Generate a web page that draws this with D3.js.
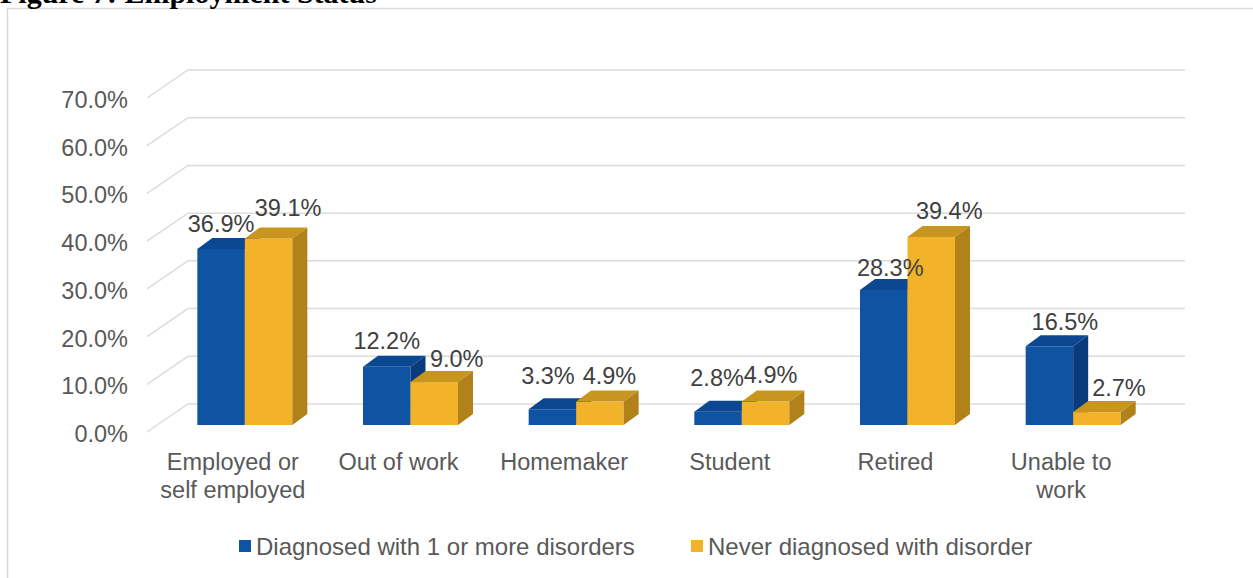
<!DOCTYPE html>
<html>
<head>
<meta charset="utf-8">
<script src="https://cdn.jsdelivr.net/npm/d3@7"></script>
<style>
  html, body { margin: 0; padding: 0; background: #ffffff; }
  svg { display: block; }
  text { font-family: "Liberation Sans", Arial, sans-serif; }
</style>
</head>
<body>
<svg id="chart" width="1253" height="578"></svg>
<script>
// ---- data ----
const categories = ["Employed or\nself employed", "Out of work", "Homemaker", "Student", "Retired", "Unable to\nwork"];
const seriesNames = ["Diagnosed with 1 or more disorders", "Never diagnosed with disorder"];
const diagnosed = [36.9, 12.2, 3.3, 2.8, 28.3, 16.5];
const neverDiagnosed = [39.1, 9.0, 4.9, 4.9, 39.4, 2.7];
const yTicks = [0, 10, 20, 30, 40, 50, 60, 70];

// ---- layout ----
const W = 1253, H = 578;
const fontSize = 23.5;
const colors = [
  { front: "#0f53a3", top: "#0c4791", side: "#0a3c7c" },
  { front: "#f2b22a", top: "#c8951f", side: "#b1821a" }
];
// depth of the wall (front plane -> back wall)
const wallDx = 41, wallDy = -28;
// bar plane offset from the front plane, and bar depth
const barOffX = 12, barOffY = -7;
const barDx = 15, barDy = -11;
// label nudges (dx, dy from the top-front edge) for each series
const labelOffset = [
  [[0, -25], [0, -25.5], [-4.5, -33], [-1, -34], [6.5, -22], [15.5, -24]],
  [[19.5, -30], [22.5, -23], [9.5, -26], [5, -26.5], [18, -26], [22, -24]]
];

const svg = d3.select("#chart");

// frame of the embedded chart
svg.append("path")
  .attr("d", `M7.5,${H + 2} V8.5 H${W + 2}`)
  .attr("fill", "none").attr("stroke", "#d9d9d9").attr("stroke-width", 1.5);

// clipped figure caption above the frame
svg.append("text")
  .attr("x", 0).attr("y", 3)
  .attr("font-weight", "bold").attr("font-size", 30)
  .attr("fill", "#000")
  .style("font-family", "'Liberation Serif', 'Times New Roman', serif")
  .text("Figure 7: Employment Status");

// scales on the front plane
const y = d3.scaleLinear().domain([0, 70]).range([432, 98]);
const x = d3.scaleBand().domain(categories).range([150, 1144]);
const barPair = 95;
const xs = d3.scaleBand().domain([0, 1]).range([0, barPair]);

// walls: left side diagonals and back-wall gridlines
const grid = svg.append("g").attr("stroke", "#dcdcdc").attr("stroke-width", 1.5).attr("fill", "none");
yTicks.forEach(t => {
  const fy = y(t);
  grid.append("path")
    .attr("d", `M147,${fy} L${147 + wallDx},${fy + wallDy} L1185,${fy + wallDy}`);
});

// y axis labels
svg.append("g").selectAll("text").data(yTicks).join("text")
  .attr("x", 128).attr("y", d => y(d) + 2)
  .attr("text-anchor", "end").attr("dominant-baseline", "central")
  .attr("font-size", fontSize).attr("fill", "#595959")
  .text(d => d3.format(".1f")(d) + "%");

// bars (3D boxes)
const series = [diagnosed, neverDiagnosed];
const base = y(0) + barOffY;
const bars = svg.append("g");
categories.forEach((c, i) => {
  const gx = x(c) + x.bandwidth() / 2 + barOffX - barPair / 2;
  series.forEach((vals, s) => {
    const v = vals[i];
    const x0 = gx + xs(s), w = xs.bandwidth();
    const top = y(v) + barOffY;
    const col = colors[s];
    const g = bars.append("g");
    g.append("rect").attr("x", x0).attr("y", top).attr("width", w).attr("height", base - top)
      .attr("fill", col.front);
    g.append("path")
      .attr("d", `M${x0},${top} L${x0 + barDx},${top + barDy} L${x0 + w + barDx},${top + barDy} L${x0 + w},${top} Z`)
      .attr("fill", col.top);
    g.append("path")
      .attr("d", `M${x0 + w},${top} L${x0 + w + barDx},${top + barDy} L${x0 + w + barDx},${base + barDy} L${x0 + w},${base} Z`)
      .attr("fill", col.side);
  });
});

// value labels
const labels = svg.append("g");
categories.forEach((c, i) => {
  const gx = x(c) + x.bandwidth() / 2 + barOffX - barPair / 2;
  series.forEach((vals, s) => {
    const v = vals[i];
    const cx = gx + xs(s) + xs.bandwidth() / 2;
    const top = y(v) + barOffY;
    const [dx, dy] = labelOffset[s][i];
    labels.append("text")
      .attr("x", cx + dx).attr("y", top + dy)
      .attr("text-anchor", "middle").attr("dominant-baseline", "central")
      .attr("font-size", fontSize).attr("fill", "#404040")
      .text(d3.format(".1f")(v) + "%");
  });
});

// category labels
const cat = svg.append("g");
categories.forEach(c => {
  const lines = c.split("\n");
  const cx = x(c) + x.bandwidth() / 2;
  const t = cat.append("text")
    .attr("text-anchor", "middle").attr("font-size", fontSize).attr("fill", "#595959");
  lines.forEach((ln, k) => {
    t.append("tspan").attr("x", cx).attr("y", 462 + k * 28)
      .attr("dominant-baseline", "central").text(ln);
  });
});

// legend
const legend = svg.append("g");
const legendX = [239, 691];
seriesNames.forEach((name, s) => {
  legend.append("rect").attr("x", legendX[s]).attr("y", 540).attr("width", 12).attr("height", 12)
    .attr("fill", colors[s].front);
  legend.append("text").attr("x", legendX[s] + 17).attr("y", 546)
    .attr("dominant-baseline", "central").attr("font-size", 24).attr("fill", "#595959")
    .text(name);
});
</script>
</body>
</html>
